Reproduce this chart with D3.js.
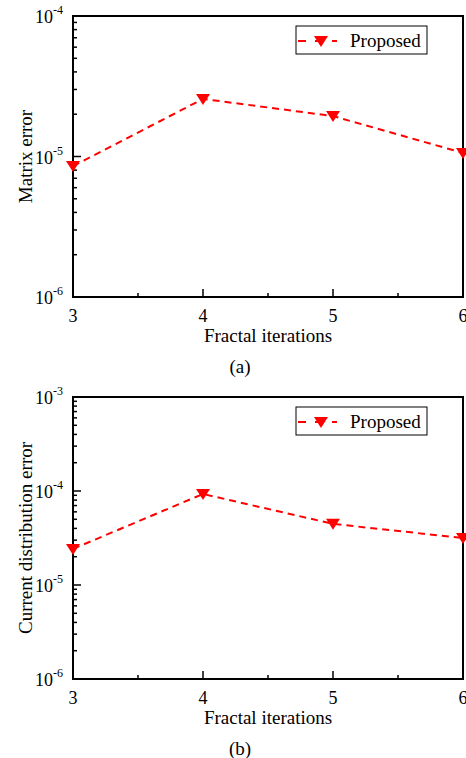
<!DOCTYPE html>
<head>
    <meta charset="utf-8">
    <script src="https://d3js.org/d3.v7.min.js"></script>
    <style>
        body { margin: 0; background: #fff; }
        svg { display: block; }
        text { font-family: "Liberation Serif", "Times New Roman", serif; fill: #000; }
    </style>
</head>
<body>
    <script>
        const iterations = [3, 4, 5, 6];
        const matrixError = [8.55e-6, 2.57e-5, 1.94e-5, 1.06e-5];
        const currentError = [2.42e-5, 9.3e-5, 4.47e-5, 3.16e-5];
        const seriesName = "Proposed";

        const W = 466, H = 758;
        const svg = d3.select("body").append("svg").attr("width", W).attr("height", H);

        const panels = [
            { values: matrixError, ylabel: "Matrix error", domain: [1e-6, 1e-4], top: 16, bottom: 297, caption: "(a)" },
            { values: currentError, ylabel: "Current distribution error", domain: [1e-6, 1e-3], top: 397, bottom: 679, caption: "(b)" }
        ];

        const left = 73, right = 463;
        // downward triangle, a bit wider than tall
        const tri = "M-7,-5L7,-5L0,6Z";

        panels.forEach(p => {
            const g = svg.append("g");
            const x = d3.scaleLinear().domain([3, 6]).range([left, right]);
            const y = d3.scaleLog().domain(p.domain).range([p.bottom, p.top]);

            // y ticks, inward, with log minors
            const lo = Math.round(Math.log10(p.domain[0])), hi = Math.round(Math.log10(p.domain[1]));
            for (let e = lo; e <= hi; e++) {
                const v = Math.pow(10, e);
                g.append("line").attr("x1", left).attr("x2", left + 8)
                    .attr("y1", y(v)).attr("y2", y(v)).attr("stroke", "#000").attr("stroke-width", 1.5);
                const t = g.append("text").attr("x", left - 10).attr("y", y(v) + 7)
                    .attr("text-anchor", "end").attr("font-size", 18);
                t.append("tspan").text("10");
                t.append("tspan").attr("dy", -9).attr("font-size", 12).text(e);
                if (e < hi) {
                    for (let k = 2; k <= 9; k++) {
                        g.append("line").attr("x1", left).attr("x2", left + 4)
                            .attr("y1", y(k * v)).attr("y2", y(k * v)).attr("stroke", "#000").attr("stroke-width", 1.5);
                    }
                }
            }

            // x ticks, inward
            iterations.forEach(d => {
                g.append("line").attr("x1", x(d)).attr("x2", x(d))
                    .attr("y1", p.bottom).attr("y2", p.bottom - 8).attr("stroke", "#000").attr("stroke-width", 1.5);
                g.append("text").attr("x", x(d)).attr("y", p.bottom + 25)
                    .attr("text-anchor", "middle").attr("font-size", 18).text(d);
            });
            [3.5, 4.5, 5.5].forEach(d => {
                g.append("line").attr("x1", x(d)).attr("x2", x(d))
                    .attr("y1", p.bottom).attr("y2", p.bottom - 4).attr("stroke", "#000").attr("stroke-width", 1.5);
            });

            // frame
            g.append("rect").attr("x", left).attr("y", p.top)
                .attr("width", right - left).attr("height", p.bottom - p.top)
                .attr("fill", "none").attr("stroke", "#000").attr("stroke-width", 2);

            // series
            const line = d3.line().x((d, i) => x(iterations[i])).y(d => y(d));
            g.append("path").datum(p.values).attr("d", line)
                .attr("fill", "none").attr("stroke", "#ff0000").attr("stroke-width", 2)
                .attr("stroke-dasharray", "7,5");
            g.selectAll(".m").data(p.values).enter().append("path")
                .attr("d", tri)
                .attr("transform", (d, i) => `translate(${x(iterations[i])},${y(d)})`)
                .attr("fill", "#ff0000");

            // legend
            const lg = g.append("g").attr("transform", `translate(296,${p.top + 10})`);
            lg.append("rect").attr("width", 131).attr("height", 28)
                .attr("fill", "#fff").attr("stroke", "#000").attr("stroke-width", 1);
            lg.append("line").attr("x1", 2).attr("x2", 41).attr("y1", 15).attr("y2", 15)
                .attr("stroke", "#ff0000").attr("stroke-width", 2).attr("stroke-dasharray", "8,9");
            lg.append("path").attr("d", tri).attr("transform", "translate(25,15)").attr("fill", "#ff0000");
            lg.append("text").attr("x", 54).attr("y", 21).attr("font-size", 19).text(seriesName);

            // axis titles and caption
            g.append("text").attr("x", 268).attr("y", p.bottom + 45)
                .attr("text-anchor", "middle").attr("font-size", 19).text("Fractal iterations");
            g.append("text").attr("transform", `translate(32,${(p.top + p.bottom) / 2}) rotate(-90)`)
                .attr("text-anchor", "middle").attr("font-size", 19).text(p.ylabel);
            g.append("text").attr("x", 240).attr("y", p.bottom + 76)
                .attr("text-anchor", "middle").attr("font-size", 19).text(p.caption);
        });
    </script>
</body>
